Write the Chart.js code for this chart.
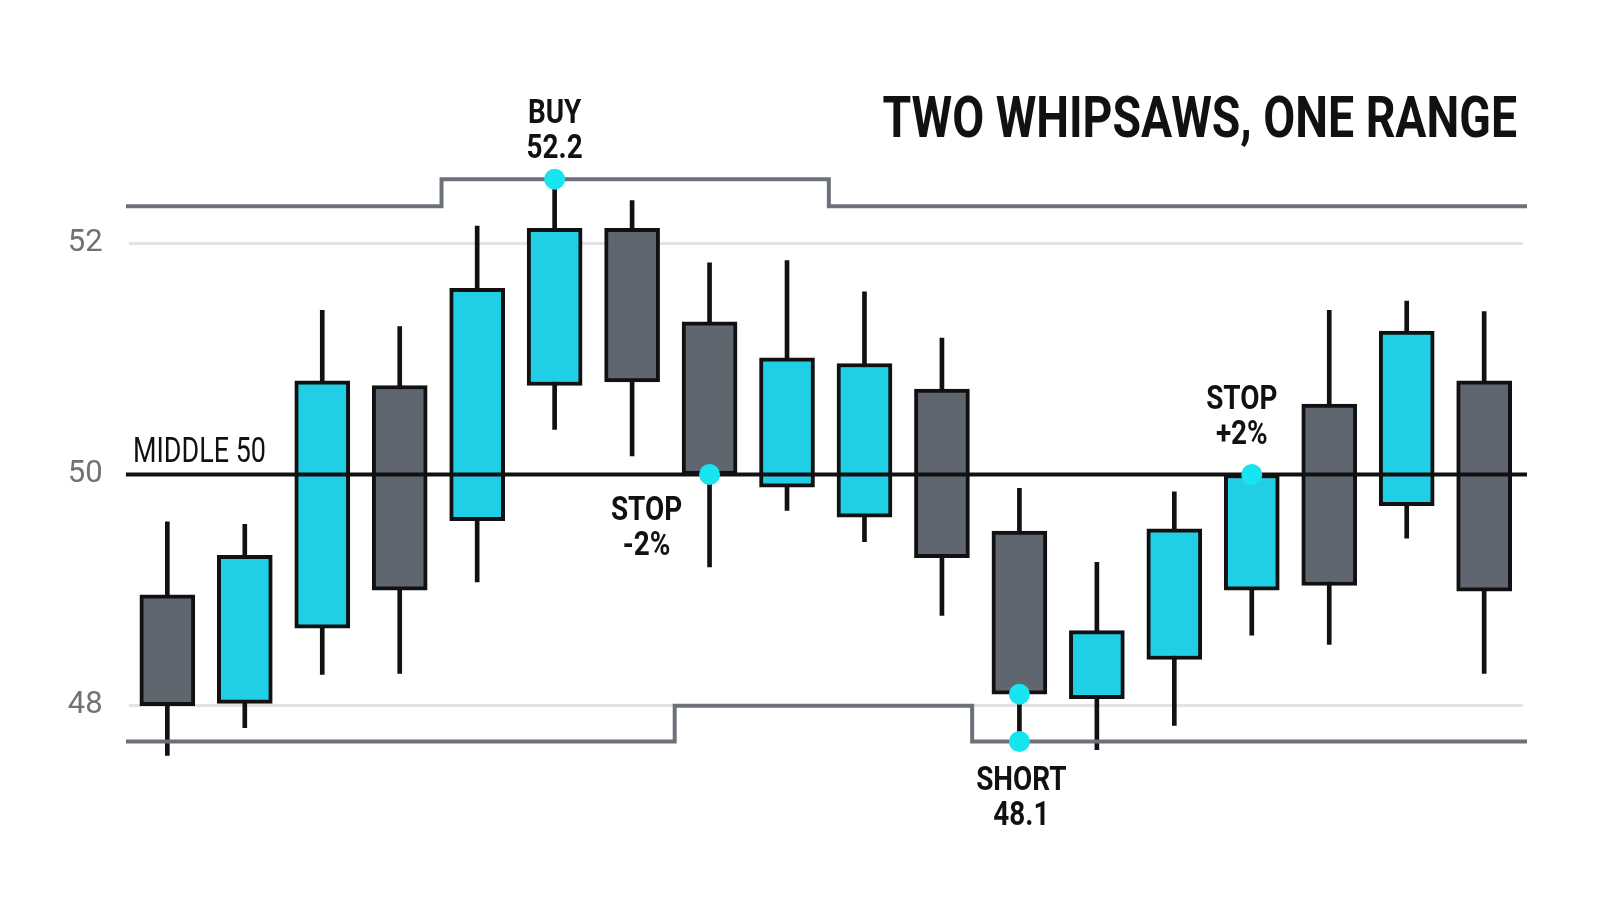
<!DOCTYPE html>
<html>
<head>
<meta charset="utf-8">
<title>Two whipsaws, one range</title>
<script src="https://cdn.jsdelivr.net/npm/chart.js@4.4.1/dist/chart.umd.min.js"></script>
<style>
html,body{margin:0;padding:0;background:#fff;overflow:hidden;}
#wrap{width:1600px;height:914px;position:relative;}
</style>
</head>
<body>
<div id="wrap"><canvas id="chart"></canvas></div>
<script>
// ==========================================
// Candles
// ==========================================
const bars=["1","2","3","4","5","6","7","8","9","10","11","12","13","14","15","16","17","18"];
const opens =[48.96,48.02,48.67,50.77,49.60,50.77,52.13,51.32,49.89,49.63,50.74,49.51,48.06,48.40,49.00,50.61,49.73,50.81];
const highs =[49.59,49.57,51.42,51.28,52.15,52.55,52.37,51.83,51.85,51.58,51.18,49.88,49.24,49.85,50.00,51.42,51.50,51.41];
const lows  =[47.57,47.81,48.27,48.28,49.07,50.39,50.16,49.20,49.69,49.42,48.78,47.69,47.62,47.83,48.61,48.53,49.45,48.28];
const closes=[48.00,49.30,50.81,49.00,51.61,52.13,50.80,50.00,51.01,50.96,49.28,48.10,48.65,49.53,50.00,49.04,51.24,48.99];

// range bands (stepped), x in bar units
const upperX=[0.466,4.54,9.54,18.553];
const upperBand=[52.32,52.555,52.32,52.32];
const lowerX=[0.466,7.55,11.39,18.553];
const lowerBand=[47.69,48.00,47.69,47.69];
const middleX=[0.466,18.553];
const middle=50;

// trade markers
const markerX=[6,8,12,12,15];
const markerY=[52.555,50,48.10,47.69,50];
const noteText=[["BUY","52.2"],["STOP","-2%"],["SHORT","48.1"],["STOP","+2%"]];

const yTicks=[48,50,52];
const titleText="TWO WHIPSAWS, ONE RANGE";

const CYAN="#20cfe6";
const GRAY="#5f6670";
const INK="#111111";

// condensed-looking text: squeeze horizontally
function squeezeText(ctx,txt,x,y,font,sx,align){
  ctx.save();
  ctx.font=font;
  ctx.fillStyle=INK;
  ctx.textAlign=align;
  ctx.textBaseline="alphabetic";
  ctx.translate(x,y);
  ctx.scale(sx,1);
  ctx.fillText(txt,0,0);
  ctx.restore();
}

const textPlugin={
  id:"notes",
  afterDraw(chart){
    const ctx=chart.ctx;
    const xs=chart.scales.x2, ys=chart.scales.y;
    const bold="bold 34px Roboto";
    // which marker each note hangs on, and offset of first baseline
    const spots=[
      {m:0,dx:0,dy:-56},
      {m:1,dx:-63,dy:45},
      {m:3,dx:2,dy:48},
      {m:4,dx:-10,dy:-66}
    ];
    spots.forEach((s,i)=>{
      const px=xs.getPixelForValue(markerX[s.m]);
      const py=ys.getPixelForValue(markerY[s.m]);
      noteText[i].forEach((line,k)=>{
        squeezeText(ctx,line,px+s.dx,py+s.dy+k*35,bold,0.82,"center");
      });
    });
    // middle label
    const my=ys.getPixelForValue(middle);
    squeezeText(ctx,"MIDDLE "+middle,xs.getPixelForValue(middleX[0])+7,my-13,"35px Roboto",0.77,"left");
    // title
    squeezeText(ctx,titleText,1517,137,"bold 58px Roboto",0.80,"right");
  }
};

new Chart(document.getElementById("chart"),{
  type:"bar",
  data:{
    labels:bars,
    datasets:[
      {
        label:"wick",
        data:lows.map((l,i)=>[l,highs[i]]),
        backgroundColor:INK,
        barThickness:4,
        grouped:false,
        order:5
      },
      {
        label:"body",
        data:opens.map((o,i)=>[o,closes[i]]),
        backgroundColor:c=>closes[c.dataIndex]>=opens[c.dataIndex]?CYAN:GRAY,
        borderColor:INK,
        borderWidth:4,
        borderSkipped:false,
        barThickness:55,
        grouped:false,
        order:4
      },
      {
        type:"line",
        label:"upper",
        xAxisID:"x2",
        data:upperX.map((x,i)=>({x:x,y:upperBand[i]})),
        stepped:"before",
        borderColor:"#6b7079",
        borderWidth:4,
        pointRadius:0,
        fill:false,
        clip:false,
        order:3
      },
      {
        type:"line",
        label:"lower",
        xAxisID:"x2",
        data:lowerX.map((x,i)=>({x:x,y:lowerBand[i]})),
        stepped:"before",
        borderColor:"#6b7079",
        borderWidth:4,
        pointRadius:0,
        fill:false,
        clip:false,
        order:3
      },
      {
        type:"line",
        label:"middle",
        xAxisID:"x2",
        data:middleX.map(x=>({x:x,y:middle})),
        borderColor:INK,
        borderWidth:4,
        pointRadius:0,
        fill:false,
        clip:false,
        order:2
      },
      {
        type:"scatter",
        label:"signals",
        xAxisID:"x2",
        data:markerX.map((x,i)=>({x:x,y:markerY[i]})),
        pointRadius:10.5,
        pointBackgroundColor:"#16e4ef",
        pointBorderWidth:0,
        clip:false,
        order:1
      }
    ]
  },
  options:{
    responsive:true,
    maintainAspectRatio:false,
    animation:false,
    layout:{padding:{top:69.9,bottom:34.9,left:0,right:77.1}},
    plugins:{
      legend:{display:false},
      tooltip:{enabled:false},
      title:{display:false}
    },
    scales:{
      x:{type:"category",display:false,offset:true},
      x2:{type:"linear",display:false,offset:false,grid:{offset:false},min:0.5,max:18.5},
      y:{
        min:46.5,
        max:53.5,
        afterBuildTicks:s=>{s.ticks=yTicks.map(v=>({value:v}));},
        afterFit:s=>{s.width=128.6;s.paddingTop=0;s.paddingBottom=0;},
        border:{display:false},
        grid:{color:"#e3e3e3",lineWidth:3,drawTicks:false},
        ticks:{
          color:"#6f7377",
          padding:26,
          font:{family:'"Liberation Sans Narrow", Roboto',size:31}
        }
      }
    }
  },
  plugins:[textPlugin]
});
</script>
</body>
</html>
